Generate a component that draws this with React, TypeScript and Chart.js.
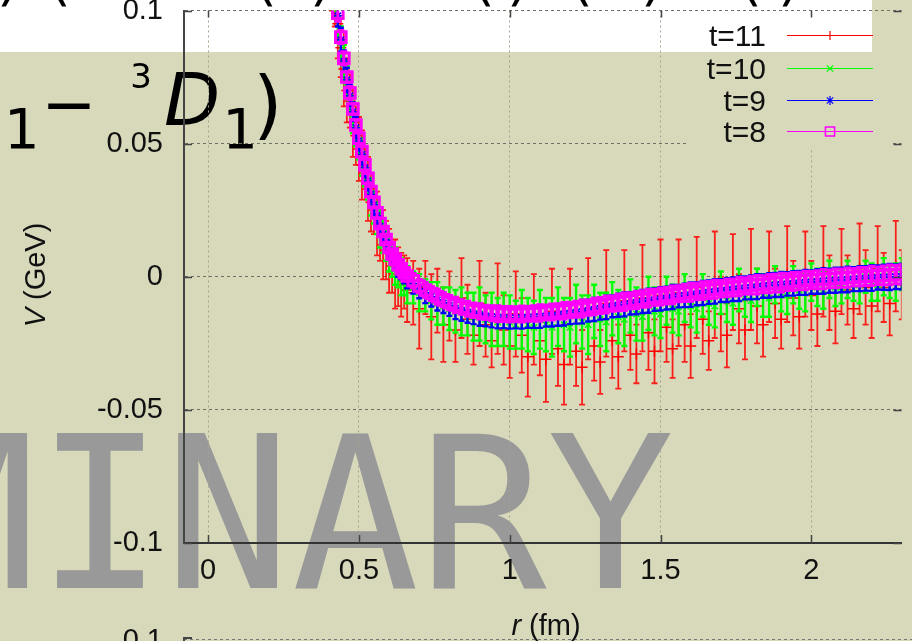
import React, { useEffect, useRef } from "react";
import { Chart, registerables } from "chart.js";

Chart.register(...registerables);

const W = 912;
const H = 641;

// ---------------- data ----------------
const R = [
  0.40, 0.41, 0.42, 0.43, 0.44, 0.45, 0.46, 0.47, 0.48, 0.49,
  0.50, 0.51, 0.52, 0.53, 0.54, 0.55, 0.56, 0.57, 0.58, 0.59,
  0.60, 0.61, 0.62, 0.63, 0.64, 0.65, 0.66,
  0.68, 0.70, 0.72, 0.74, 0.76, 0.78, 0.80, 0.82, 0.84, 0.86,
  0.88, 0.90, 0.92, 0.94, 0.96, 0.98, 1.00, 1.02, 1.04, 1.06,
  1.08, 1.10, 1.12, 1.14, 1.16, 1.18, 1.20, 1.22, 1.24, 1.26,
  1.28, 1.30, 1.32, 1.34, 1.36, 1.38, 1.40, 1.42, 1.44, 1.46,
  1.48, 1.50, 1.52, 1.54, 1.56, 1.58, 1.60, 1.62, 1.64, 1.66,
  1.68, 1.70, 1.72, 1.74, 1.76, 1.78, 1.80, 1.82, 1.84, 1.86,
  1.88, 1.90, 1.92, 1.94, 1.96, 1.98, 2.00, 2.02, 2.04, 2.06,
  2.08, 2.10, 2.12, 2.14, 2.16, 2.18, 2.20, 2.22, 2.24, 2.26,
  2.28, 2.30, 2.32,
];

// t=8
const V8 = [
  0.128, 0.118, 0.108, 0.099, 0.090, 0.082, 0.075, 0.069, 0.063, 0.057,
  0.052, 0.047, 0.042, 0.037, 0.032, 0.028, 0.024, 0.020, 0.017, 0.014,
  0.011, 0.0085, 0.0065, 0.0045, 0.003, 0.0015, 0.0003,
  -0.0015, -0.0035, -0.005, -0.0063, -0.0075, -0.0087, -0.0097, -0.0106, -0.0114, -0.012,
  -0.0126, -0.013, -0.0134, -0.0137, -0.0139, -0.014, -0.0141, -0.0141, -0.014, -0.0139,
  -0.0138, -0.0136, -0.0134, -0.0132, -0.013, -0.0128, -0.0125, -0.0122, -0.0119, -0.0116,
  -0.0112, -0.0108, -0.0104, -0.0101, -0.0097, -0.0094, -0.009, -0.0087, -0.0084, -0.0081,
  -0.0077, -0.0074, -0.0071, -0.0068, -0.0064, -0.0061, -0.0058, -0.0055, -0.0052, -0.005,
  -0.0047, -0.0045, -0.0042, -0.004, -0.0037, -0.0035, -0.0032, -0.003, -0.0028, -0.0026,
  -0.0024, -0.0022, -0.002, -0.0018, -0.0016, -0.0014, -0.0012, -0.0011, -0.0009, -0.0008,
  -0.0006, -0.0005, -0.0003, -0.0002, 0.0, 0.0001, 0.0003, 0.0004, 0.0005, 0.0007,
  0.0008, 0.0009, 0.001,
];
const E8 = [
  0.003, 0.003, 0.0025, 0.003, 0.0025, 0.0025, 0.002, 0.0025, 0.002, 0.002,
  0.0025, 0.002, 0.002, 0.0018, 0.002, 0.0018, 0.0018, 0.002, 0.0018, 0.0016,
  0.0018, 0.0016, 0.0016, 0.0018, 0.0016, 0.0016, 0.0018,
  0.0026, 0.0025, 0.0027, 0.0026, 0.0028, 0.0026, 0.0027, 0.0029, 0.0027, 0.0028,
  0.0027, 0.0029, 0.0027, 0.0028, 0.003, 0.0028, 0.0029, 0.0028, 0.003, 0.0028,
  0.0029, 0.0031, 0.0028, 0.003, 0.0029, 0.0031, 0.0029, 0.003, 0.0032, 0.0029,
  0.0031, 0.003, 0.0032, 0.0029, 0.0031, 0.0033, 0.003, 0.0032, 0.0031, 0.0033,
  0.003, 0.0032, 0.0031, 0.0033, 0.003, 0.0032, 0.0034, 0.0031, 0.0033, 0.0032,
  0.0034, 0.0031, 0.0033, 0.0032, 0.0034, 0.0031, 0.0033, 0.0035, 0.0032, 0.0034,
  0.0033, 0.0035, 0.0032, 0.0034, 0.0033, 0.0035, 0.0032, 0.0034, 0.0036, 0.0033,
  0.0035, 0.0034, 0.0036, 0.0033, 0.0035, 0.0034, 0.0036, 0.0033, 0.0035, 0.0037,
  0.0034, 0.0036, 0.0035,
];

// t=9
const V9 = [
  0.127, 0.117, 0.107, 0.098, 0.089, 0.081, 0.074, 0.068, 0.062, 0.056,
  0.051, 0.046, 0.041, 0.036, 0.031, 0.027, 0.023, 0.019, 0.016, 0.013,
  0.010, 0.0075, 0.0055, 0.0035, 0.002, 0.0005, -0.0008,
  -0.0025, -0.0045, -0.006, -0.0075, -0.0087, -0.0098, -0.0108, -0.0118, -0.0126, -0.0133,
  -0.0139, -0.0143, -0.0147, -0.015, -0.0152, -0.0153, -0.0154, -0.0154, -0.0153, -0.0152,
  -0.0151, -0.0149, -0.0147, -0.0145, -0.0143, -0.014, -0.0137, -0.0134, -0.0131, -0.0127,
  -0.0123, -0.0119, -0.0115, -0.0111, -0.0107, -0.0104, -0.01, -0.0097, -0.0093, -0.009,
  -0.0086, -0.0083, -0.008, -0.0076, -0.0073, -0.007, -0.0067, -0.0064, -0.0061, -0.0058,
  -0.0055, -0.0052, -0.005, -0.0047, -0.0045, -0.0042, -0.004, -0.0037, -0.0035, -0.0033,
  -0.0031, -0.0029, -0.0027, -0.0025, -0.0023, -0.0021, -0.002, -0.0018, -0.0016, -0.0015,
  -0.0013, -0.0012, -0.001, -0.0009, -0.0007, -0.0006, -0.0005, -0.0003, -0.0002, -0.0001,
  0.0, 0.0001, 0.0002,
];
const E9 = [
  0.005, 0.0045, 0.005, 0.004, 0.0045, 0.004, 0.0045, 0.004, 0.0035, 0.004,
  0.0035, 0.004, 0.0035, 0.0035, 0.003, 0.0035, 0.003, 0.0035, 0.003, 0.003,
  0.0035, 0.003, 0.003, 0.0035, 0.003, 0.003, 0.0035,
  0.0038, 0.0036, 0.0039, 0.0037, 0.004, 0.0038, 0.0039, 0.0041, 0.0039, 0.004,
  0.0039, 0.0041, 0.0039, 0.004, 0.0042, 0.004, 0.0041, 0.004, 0.0042, 0.004,
  0.0041, 0.0043, 0.004, 0.0042, 0.0041, 0.0043, 0.0041, 0.0042, 0.0044, 0.0041,
  0.0043, 0.0042, 0.0044, 0.0041, 0.0043, 0.0045, 0.0042, 0.0044, 0.0043, 0.0045,
  0.0042, 0.0044, 0.0043, 0.0045, 0.0042, 0.0044, 0.0046, 0.0043, 0.0045, 0.0044,
  0.0046, 0.0043, 0.0045, 0.0044, 0.0046, 0.0043, 0.0045, 0.0047, 0.0044, 0.0046,
  0.0045, 0.0047, 0.0044, 0.0046, 0.0045, 0.0047, 0.0044, 0.0046, 0.0048, 0.0045,
  0.0047, 0.0046, 0.0048, 0.0045, 0.0047, 0.0046, 0.0048, 0.0045, 0.0047, 0.0049,
  0.0046, 0.0048, 0.0047,
];

// t=10
const V10 = [
  0.127, 0.116, 0.106, 0.097, 0.088, 0.080, 0.073, 0.067, 0.061, 0.055,
  0.050, 0.045, 0.040, 0.035, 0.030, 0.026, 0.022, 0.018, 0.015, 0.012,
  0.009, 0.006, 0.004, 0.002, 0.000, -0.001, -0.003,
  -0.004, -0.006, -0.007, -0.009, -0.010, -0.011, -0.012, -0.013, -0.013, -0.014,
  -0.015, -0.014, -0.016, -0.016, -0.017, -0.016, -0.017, -0.018, -0.016, -0.018,
  -0.019, -0.016, -0.018, -0.019, -0.015, -0.018, -0.019, -0.014, -0.017, -0.018,
  -0.013, -0.016, -0.017, -0.012, -0.015, -0.016, -0.011, -0.014, -0.015, -0.010,
  -0.013, -0.014, -0.009, -0.012, -0.013, -0.008, -0.011, -0.012, -0.007, -0.010,
  -0.011, -0.006, -0.009, -0.010, -0.005, -0.008, -0.009, -0.004, -0.007, -0.008,
  -0.003, -0.006, -0.007, -0.003, -0.005, -0.006, -0.002, -0.004, -0.005, -0.001,
  -0.004, -0.004, -0.001, -0.003, -0.003, 0.000, -0.002, -0.003, 0.000, -0.002,
  -0.002, 0.001, -0.001,
];
const E10 = [
  0.006, 0.007, 0.006, 0.007, 0.006, 0.007, 0.006, 0.006, 0.007, 0.006,
  0.006, 0.007, 0.006, 0.006, 0.007, 0.006, 0.006, 0.007, 0.006, 0.006,
  0.007, 0.006, 0.007, 0.006, 0.007, 0.006, 0.007,
  0.006, 0.007, 0.006, 0.007, 0.008, 0.007, 0.008, 0.008, 0.009, 0.008,
  0.009, 0.010, 0.009, 0.010, 0.009, 0.010, 0.010, 0.009, 0.011, 0.010,
  0.010, 0.011, 0.010, 0.011, 0.011, 0.010, 0.011, 0.011, 0.010, 0.011,
  0.010, 0.010, 0.011, 0.010, 0.010, 0.010, 0.010, 0.010, 0.009, 0.010,
  0.009, 0.009, 0.009, 0.009, 0.009, 0.009, 0.008, 0.009, 0.008, 0.008,
  0.008, 0.008, 0.008, 0.008, 0.008, 0.007, 0.008, 0.007, 0.008, 0.007,
  0.007, 0.007, 0.007, 0.007, 0.007, 0.007, 0.007, 0.007, 0.007, 0.007,
  0.007, 0.006, 0.007, 0.006, 0.007, 0.006, 0.007, 0.006, 0.007, 0.006,
  0.007, 0.006, 0.007,
];

// t=11
const V11 = [
  0.126, 0.112, 0.104, 0.095, 0.086, 0.078, 0.070, 0.066, 0.058, 0.053,
  0.048, 0.042, 0.039, 0.033, 0.028, 0.025, 0.020, 0.016, 0.012, 0.010,
  0.006, 0.004, 0.001, 0.000, -0.003, -0.002, -0.005,
  -0.006, -0.012, -0.004, -0.015, -0.009, -0.018, -0.011, -0.020, -0.008, -0.016,
  -0.022, -0.010, -0.018, -0.024, -0.012, -0.020, -0.026, -0.014, -0.022, -0.030,
  -0.016, -0.024, -0.031, -0.013, -0.027, -0.033, -0.015, -0.028, -0.034, -0.012,
  -0.026, -0.032, -0.010, -0.024, -0.030, -0.009, -0.022, -0.029, -0.008, -0.021,
  -0.028, -0.007, -0.019, -0.027, -0.006, -0.018, -0.026, -0.004, -0.016, -0.024,
  -0.003, -0.014, -0.022, -0.002, -0.012, -0.020, -0.001, -0.011, -0.018, 0.000,
  -0.010, -0.016, 0.001, -0.008, -0.015, 0.001, -0.007, -0.014, 0.002, -0.006,
  -0.013, 0.002, -0.005, -0.012, 0.003, -0.004, -0.011, 0.003, -0.004, -0.010,
  0.004, -0.003, -0.009,
];
const E11 = [
  0.010, 0.012, 0.010, 0.013, 0.011, 0.014, 0.012, 0.010, 0.013, 0.011,
  0.012, 0.013, 0.010, 0.012, 0.011, 0.009, 0.012, 0.010, 0.013, 0.011,
  0.012, 0.010, 0.013, 0.011, 0.012, 0.010, 0.012,
  0.012, 0.015, 0.010, 0.016, 0.012, 0.014, 0.013, 0.012, 0.015, 0.013,
  0.011, 0.016, 0.012, 0.010, 0.017, 0.013, 0.012, 0.016, 0.014, 0.015,
  0.017, 0.013, 0.016, 0.016, 0.014, 0.015, 0.018, 0.013, 0.014, 0.019,
  0.013, 0.012, 0.020, 0.014, 0.012, 0.019, 0.013, 0.011, 0.020, 0.014,
  0.012, 0.021, 0.013, 0.011, 0.020, 0.014, 0.012, 0.019, 0.013, 0.011,
  0.020, 0.014, 0.012, 0.018, 0.013, 0.011, 0.019, 0.014, 0.012, 0.017,
  0.013, 0.011, 0.018, 0.014, 0.012, 0.016, 0.013, 0.012, 0.017, 0.014,
  0.012, 0.016, 0.013, 0.011, 0.017, 0.014, 0.012, 0.016, 0.013, 0.012,
  0.017, 0.013, 0.012,
];

const SERIES_LABELS = ["t=11", "t=10", "t=9", "t=8"];
const X_TICKS = [0, 0.5, 1, 1.5, 2];
const Y_TICKS = [-0.1, -0.05, 0, 0.05, 0.1];
const X_TITLE_ITALIC = "r";
const X_TITLE_REST = " (fm)";
const Y_TITLE_ITALIC = "V";
const Y_TITLE_REST = " (GeV)";
const WATERMARK = "PRELIMINARY";

// ---------------- styles ----------------
const BG = "rgb(216,216,186)";
const SANS = "'Liberation Sans', Arial, Helvetica, sans-serif";
const DJ = "'DejaVu Sans', sans-serif";

const STYLES = [
  { color: "#ff0000", err: "rgba(255,0,0,0.85)", errW: 1.8, cap: 3, point: "cross", radius: 5.5, bw: 1.5, order: 4 },
  { color: "#00ff00", err: "rgba(0,255,0,1)", errW: 2.4, cap: 3, point: "crossRot", radius: 4.5, bw: 1.5, order: 3 },
  { color: "#0000ff", err: "rgba(0,0,255,1)", errW: 2.4, cap: 3, point: "star", radius: 4.5, bw: 1.5, order: 2 },
  { color: "#ff00ff", err: "rgba(255,0,255,1)", errW: 3, cap: 3.5, point: "rect", radius: 7.5, bw: 3, order: 1 },
];

const VALUES = [V11, V10, V9, V8];
const ERRORS = [E11, E10, E9, E8];

const LEGEND_BOX = { left: 689, top: 15, right: 891, bottom: 150 };

function paintBackgroundRect(ctx: CanvasRenderingContext2D, x: number, y: number, w: number, h: number) {
  ctx.save();
  ctx.fillStyle = BG;
  ctx.fillRect(x, y, w, h);
  const wx1 = Math.max(x, 0);
  const wx2 = Math.min(x + w, 872);
  const wy1 = Math.max(y, 0);
  const wy2 = Math.min(y + h, 52);
  if (wx2 > wx1 && wy2 > wy1) {
    ctx.fillStyle = "#ffffff";
    ctx.fillRect(wx1, wy1, wx2 - wx1, wy2 - wy1);
  }
  ctx.restore();
}

function drawMarker(ctx: CanvasRenderingContext2D, style: string, x: number, y: number, r: number, color: string, bw: number) {
  ctx.save();
  ctx.strokeStyle = color;
  ctx.lineWidth = bw;
  ctx.beginPath();
  if (style === "cross" || style === "star") {
    ctx.moveTo(x - r, y); ctx.lineTo(x + r, y);
    ctx.moveTo(x, y - r); ctx.lineTo(x, y + r);
  }
  if (style === "crossRot" || style === "star") {
    const d = r * Math.SQRT1_2;
    ctx.moveTo(x - d, y - d); ctx.lineTo(x + d, y + d);
    ctx.moveTo(x - d, y + d); ctx.lineTo(x + d, y - d);
  }
  if (style === "rect") {
    const s = r * Math.SQRT1_2;
    ctx.rect(x - s, y - s, 2 * s, 2 * s);
  }
  ctx.stroke();
  ctx.restore();
}

const backgroundPlugin = {
  id: "slideBackground",
  beforeDraw(chart: any) {
    const ctx: CanvasRenderingContext2D = chart.ctx;
    paintBackgroundRect(ctx, 0, 0, W, H);
    ctx.save();
    ctx.fillStyle = "#000";
    ctx.textBaseline = "alphabetic";

    // tips of a title line above the crop
    ctx.font = `56px ${DJ}`;
    ctx.textAlign = "center";
    const tips: [string, number][] = [
      [")", 8], ["(", 60], ["(", 266], [")", 321], ["(", 484], [")", 518],
      ["(", 582], [")", 652], ["(", 751], [")", 789],
    ];
    tips.forEach(([t, x]) => ctx.fillText(t, x, -1));

    // fragment of the slide title
    ctx.textAlign = "left";
    ctx.font = `56px ${DJ}`;
    ctx.fillText("1", 4, 148);
    ctx.font = `66px ${DJ}`;
    ctx.textAlign = "center";
    ctx.fillText("\u2212", 69, 127);
    ctx.font = `34px ${DJ}`;
    ctx.fillText("3", 141, 88);
    ctx.textAlign = "left";
    ctx.font = `italic 73px ${DJ}`;
    ctx.fillText("D", 164, 125);
    ctx.textAlign = "center";
    ctx.font = `56px ${DJ}`;
    ctx.fillText("1", 240, 148);
    ctx.font = `75px ${DJ}`;
    ctx.fillText(")", 268, 130);

    // watermark
    ctx.fillStyle = "rgb(153,153,153)";
    ctx.font = `212px 'DejaVu Sans Mono', monospace`;
    ctx.textAlign = "left";
    const adv = ctx.measureText(WATERMARK).width / WATERMARK.length;
    ctx.fillText(WATERMARK, 100 - 6.5 * adv, 588);

    // top of the next panel below
    ctx.fillStyle = "#111";
    ctx.font = `29px ${SANS}`;
    ctx.textAlign = "right";
    ctx.textBaseline = "middle";
    ctx.fillText("0.1", 163, 641);
    ctx.strokeStyle = "#777";
    ctx.lineWidth = 1;
    ctx.setLineDash([3, 3]);
    ctx.beginPath();
    ctx.moveTo(184, 639.5);
    ctx.lineTo(W, 639.5);
    ctx.stroke();
    ctx.setLineDash([]);
    ctx.strokeStyle = "#444";
    ctx.lineWidth = 2;
    ctx.beginPath();
    ctx.moveTo(184, 641);
    ctx.lineTo(184, 638);
    ctx.lineTo(192, 638);
    ctx.stroke();
    ctx.restore();
  },
  beforeDatasetsDraw(chart: any) {
    const b = LEGEND_BOX;
    paintBackgroundRect(chart.ctx, b.left, b.top, b.right - b.left, b.bottom - b.top);
  },
};

const errorBarPlugin = {
  id: "errorBars",
  beforeDatasetDraw(chart: any, args: any) {
    const ds = chart.data.datasets[args.index];
    const errs: number[] = ds.errors;
    if (!errs) return;
    const ctx: CanvasRenderingContext2D = chart.ctx;
    const ys = chart.scales.y;
    const a = chart.chartArea;
    ctx.save();
    ctx.beginPath();
    ctx.rect(a.left, a.top, a.right - a.left, a.bottom - a.top);
    ctx.clip();
    ctx.strokeStyle = ds.errorColor;
    ctx.lineWidth = ds.errorWidth;
    ctx.beginPath();
    const cap = ds.errorCap;
    args.meta.data.forEach((pt: any, i: number) => {
      const d = ds.data[i];
      const e = errs[i];
      const y1 = ys.getPixelForValue(d.y - e);
      const y2 = ys.getPixelForValue(d.y + e);
      ctx.moveTo(pt.x, y1);
      ctx.lineTo(pt.x, y2);
      ctx.moveTo(pt.x - cap, y1);
      ctx.lineTo(pt.x + cap, y1);
      ctx.moveTo(pt.x - cap, y2);
      ctx.lineTo(pt.x + cap, y2);
    });
    ctx.stroke();
    ctx.restore();
  },
};

const overlayPlugin = {
  id: "overlay",
  afterDraw(chart: any) {
    const ctx: CanvasRenderingContext2D = chart.ctx;
    const a = chart.chartArea;
    const xs = chart.scales.x;
    const ys = chart.scales.y;
    ctx.save();
    ctx.strokeStyle = "#444";
    ctx.lineWidth = 1.5;
    ctx.beginPath();
    X_TICKS.forEach((v) => {
      const x = Math.round(xs.getPixelForValue(v)) + 0.5;
      ctx.moveTo(x, a.bottom);
      ctx.lineTo(x, a.bottom - 8);
      ctx.moveTo(x, a.top);
      ctx.lineTo(x, a.top + 7);
    });
    Y_TICKS.forEach((v) => {
      const y = Math.round(ys.getPixelForValue(v)) + 0.5;
      ctx.moveTo(a.left, y);
      ctx.lineTo(a.left + 8, y);
      ctx.moveTo(a.right, y);
      ctx.lineTo(a.right - 8, y);
    });
    ctx.stroke();

    // axis titles
    ctx.fillStyle = "#111";
    ctx.textBaseline = "middle";
    ctx.textAlign = "left";
    const fontI = `italic 29px ${SANS}`;
    const fontR = `29px ${SANS}`;
    ctx.font = fontI;
    const xw1 = ctx.measureText(X_TITLE_ITALIC).width;
    ctx.font = fontR;
    const xw2 = ctx.measureText(X_TITLE_REST).width;
    let x0 = 546 - (xw1 + xw2) / 2;
    ctx.font = fontI;
    ctx.fillText(X_TITLE_ITALIC, x0, 627);
    ctx.font = fontR;
    ctx.fillText(X_TITLE_REST, x0 + xw1, 627);

    ctx.save();
    ctx.translate(37, 275);
    ctx.rotate(-Math.PI / 2);
    ctx.font = fontI;
    const yw1 = ctx.measureText(Y_TITLE_ITALIC).width;
    ctx.font = fontR;
    const yw2 = ctx.measureText(Y_TITLE_REST).width;
    x0 = -(yw1 + yw2) / 2;
    ctx.font = fontI;
    ctx.fillText(Y_TITLE_ITALIC, x0, 0);
    ctx.font = fontR;
    ctx.fillText(Y_TITLE_REST, x0 + yw1, 0);
    ctx.restore();

    // legend
    const rows = [35, 68, 100, 131];
    chart.data.datasets.forEach((ds: any, i: number) => {
      const y = rows[i] + 0.5;
      ctx.fillStyle = "#111";
      ctx.font = `30px ${SANS}`;
      ctx.textAlign = "right";
      ctx.textBaseline = "alphabetic";
      ctx.fillText(ds.label, 766, rows[i] + 11);
      ctx.strokeStyle = ds.pointBorderColor;
      ctx.lineWidth = 1.2;
      ctx.beginPath();
      ctx.moveTo(787, y);
      ctx.lineTo(873, y);
      ctx.stroke();
      const lw = ds.pointStyle === "rect" ? 1.5 : 1.2;
      const lr = ds.pointStyle === "rect" ? 6.5 : 4.5;
      drawMarker(ctx, ds.pointStyle, 830, y, lr, ds.pointBorderColor, lw);
    });
    ctx.restore();
  },
};

export default function App() {
  const ref = useRef<HTMLCanvasElement>(null);

  useEffect(() => {
    const canvas = ref.current;
    if (!canvas) return;

    const datasets = SERIES_LABELS.map((label, k) => {
      const st = STYLES[k];
      return {
        label,
        data: R.map((r, i) => ({ x: r, y: VALUES[k][i] })),
        errors: ERRORS[k],
        errorColor: st.err,
        errorWidth: st.errW,
        errorCap: st.cap,
        showLine: false,
        order: st.order,
        pointStyle: st.point,
        pointRadius: st.radius,
        pointHoverRadius: st.radius,
        pointBorderColor: st.color,
        pointBackgroundColor: "rgba(0,0,0,0)",
        pointBorderWidth: st.bw,
        borderColor: st.color,
        backgroundColor: "rgba(0,0,0,0)",
      };
    });

    const fixScale = (s: any) => {
      s.paddingLeft = 0;
      s.paddingRight = 0;
      s.paddingTop = 0;
      s.paddingBottom = 0;
    };

    const chart = new Chart(canvas, {
      type: "scatter",
      data: { datasets } as any,
      plugins: [backgroundPlugin, errorBarPlugin, overlayPlugin],
      options: {
        responsive: false,
        animation: false,
        devicePixelRatio: 1,
        events: [],
        layout: { padding: { top: 10, left: 0, right: 0, bottom: 0 } },
        plugins: {
          legend: { display: false },
          tooltip: { enabled: false },
          title: { display: false },
        },
        scales: {
          x: {
            type: "linear",
            min: -0.08,
            max: 2.299,
            afterBuildTicks: (s: any) => {
              s.ticks = X_TICKS.map((v) => ({ value: v }));
            },
            afterFit: (s: any) => {
              s.height = 98;
              fixScale(s);
            },
            ticks: {
              padding: 11,
              maxRotation: 0,
              autoSkip: false,
              color: "#111",
              font: { family: SANS, size: 29 },
              callback: (v: any) => String(Math.round(Number(v) * 100) / 100),
            },
            grid: { color: "#a3a38f", lineWidth: 1, drawTicks: false },
            border: { display: true, color: "#333", width: 2, dash: [2, 3] },
          },
          y: {
            type: "linear",
            min: -0.1,
            max: 0.1,
            afterBuildTicks: (s: any) => {
              s.ticks = Y_TICKS.map((v) => ({ value: v }));
            },
            afterFit: (s: any) => {
              s.width = 184;
              fixScale(s);
            },
            ticks: {
              padding: 21,
              autoSkip: false,
              color: "#111",
              font: { family: SANS, size: 29 },
              callback: (v: any) => String(Math.round(Number(v) * 100) / 100),
            },
            grid: { color: "#6f6f66", lineWidth: 1, drawTicks: false },
            border: { display: true, color: "#444", width: 2, dash: [3, 3] },
          },
        },
      } as any,
    });

    return () => chart.destroy();
  }, []);

  return (
    <div style={{ position: "fixed", left: 0, top: 0, width: W, height: H, overflow: "hidden" }}>
      <canvas ref={ref} width={W} height={H} style={{ display: "block", width: W, height: H }} />
    </div>
  );
}
